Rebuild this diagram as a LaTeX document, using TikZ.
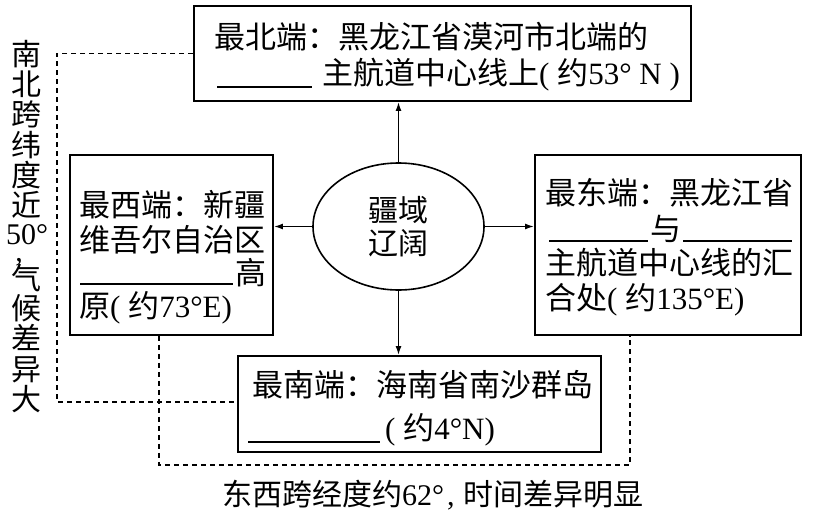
\documentclass[tikz,border=0pt]{standalone}
\usepackage{fontspec}
\setmainfont{Liberation Serif}
\newfontfamily\cjk{Noto Sans CJK SC}
\usetikzlibrary{arrows.meta,shapes.geometric}
\tikzset{
  box/.style={draw, line width=1.9pt, inner sep=0pt},
  hubshape/.style={draw, line width=1.6pt, ellipse, inner sep=0pt, align=center,
    minimum width=171pt, minimum height=127pt,
    font=\cjk\fontsize{30}{33}\selectfont},
  txt/.style={anchor=west, inner sep=0pt, font=\cjk\fontsize{31}{31}\selectfont},
  vcol/.style={anchor=north, inner sep=0pt, align=center, font=\cjk\fontsize{30}{30.2}\selectfont},
  bot/.style={anchor=west, inner sep=0pt, font=\cjk\fontsize{30}{30}\selectfont},
  arr/.style={line width=1.5pt, -{Latex[length=9pt,width=6pt]}},
  dsh/.style={line width=1.7pt, dash pattern=on 5pt off 4pt},
  blank/.style={line width=1.5pt}
}
\begin{document}
\begin{tikzpicture}[x=1pt,y=-1pt]
\useasboundingbox (0,0) rectangle (814,514);
% boxes
\node[box, minimum width=497pt, minimum height=95pt] (north) at (442.5,53.5) {};
\node[box, minimum width=203pt, minimum height=180pt] (west) at (171.5,245) {};
\node[box, minimum width=266pt, minimum height=180pt] (east) at (668,245) {};
\node[box, minimum width=363pt, minimum height=96pt] (south) at (419.5,404) {};
\node[hubshape] (hub) at (398.5,226.5) {疆域\\辽阔};
% arrows
\draw[arr] (hub.north) -- (hub.north |- north.south);
\draw[arr] (hub.west) -- (hub.west -| west.east);
\draw[arr] (hub.east) -- (hub.east -| east.west);
\draw[arr] (hub.south) -- (hub.south |- south.north);
% north text
\node[txt] (n1) at (214,37) {最北端：黑龙江省漠河市北端的};
\node[txt] (n2) at (322,75) {主航道中心线上{\rmfamily( }约{\rmfamily 53° N )}};
\coordinate (nu1) at (217,87); \coordinate (nu2) at (312,87);
\draw[blank] (nu1) -- (nu2);
% west text
\node[txt] (w1) at (79,205) {最西端：新疆};
\node[txt] (w2) at (79,240) {维吾尔自治区};
\node[txt] (w3) at (235,273) {高};
\node[txt] (w4) at (79,308) {原{\rmfamily( }约{\rmfamily 73°E)}};
\coordinate (wu1) at (80,284); \coordinate (wu2) at (233,284);
\draw[blank] (wu1) -- (wu2);
% east text
\node[txt] (e1) at (545,193) {最东端：黑龙江省};
\node[txt] (e2) at (650,229) {与};
\node[txt] (e3) at (545,263) {主航道中心线的汇};
\node[txt] (e4) at (545,300) {合处{\rmfamily( }约{\rmfamily 135°E)}};
\coordinate (eu1) at (549,241); \coordinate (eu2) at (648,241);
\coordinate (eu3) at (683,241); \coordinate (eu4) at (792,241);
\draw[blank] (eu1) -- (eu2);
\draw[blank] (eu3) -- (eu4);
% south text
\node[txt] (s1) at (252,385) {最南端：海南省南沙群岛};
\node[txt] (s2) at (385,430) {{\rmfamily( }约{\rmfamily 4°N)}};
\coordinate (su1) at (248,442); \coordinate (su2) at (380,442);
\draw[blank] (su1) -- (su2);
% dashed brackets
\coordinate (lb) at (57,402);
\draw[dsh] (north.west) -| (lb) -- (lb -| south.west);
\coordinate (bl) at (159,465);
\coordinate (br) at (630,465);
\draw[dsh] (west.south -| bl) -- (bl) -- (br) -- (br |- east.south);
% vertical text
\node[vcol] (vt) at (27,40) {南\\北\\跨\\纬\\度\\近\\[-2.4pt]{\rmfamily 50°}\\[-13.4pt]\makebox[0pt][r]{\rmfamily ,\kern4pt}\\[-1.8pt]气\\候\\差\\异\\大};
% bottom text
\node[bot] (b1) at (222,495) {东西跨经度约{\rmfamily 62°\hspace{3pt},\hspace{9pt}}时间差异明显};
\end{tikzpicture}
\end{document}
